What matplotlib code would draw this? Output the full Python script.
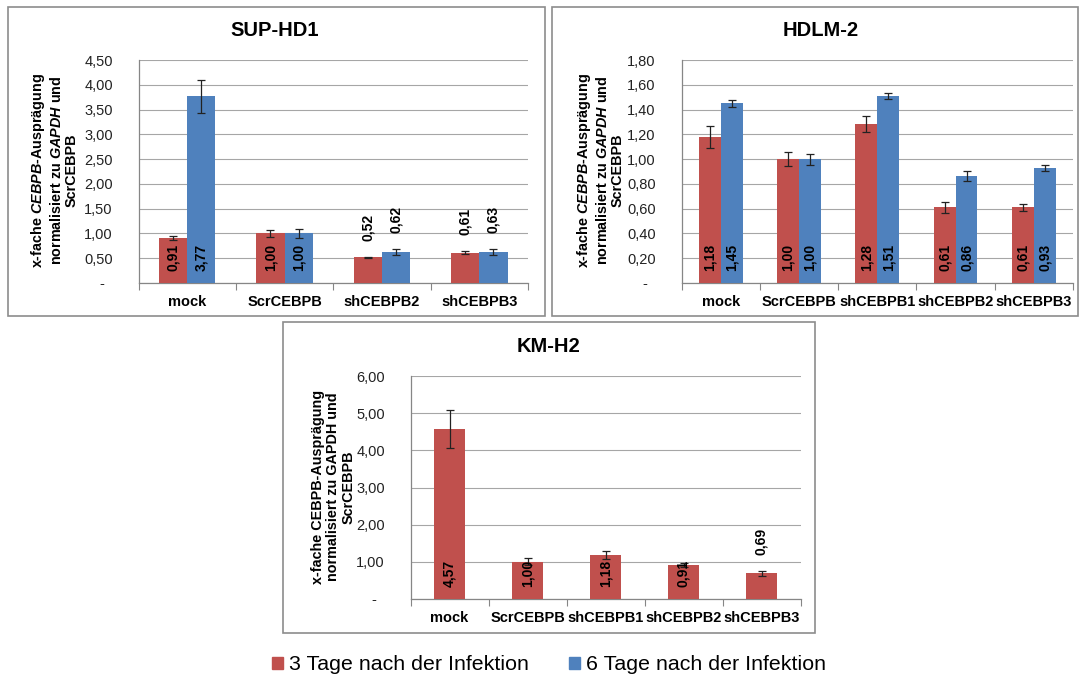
import matplotlib
matplotlib.use('Agg')
import matplotlib.pyplot as plt
from matplotlib.patches import Rectangle, Patch
from matplotlib.ticker import FuncFormatter

plt.rcParams['font.family'] = ['Liberation Sans', 'DejaVu Sans']
plt.rcParams['mathtext.fontset'] = 'custom'
plt.rcParams['mathtext.it'] = 'Liberation Sans:italic:bold'
plt.rcParams['mathtext.rm'] = 'Liberation Sans:bold'

# data
cats4 = ['mock', 'ScrCEBPB', 'shCEBPB2', 'shCEBPB3']
cats5 = ['mock', 'ScrCEBPB', 'shCEBPB1', 'shCEBPB2', 'shCEBPB3']

sup_3d = [0.91, 1.00, 0.52, 0.61]
sup_3d_err = [0.04, 0.07, 0.01, 0.03]
sup_6d = [3.77, 1.00, 0.62, 0.63]
sup_6d_err = [0.33, 0.09, 0.065, 0.06]

hdlm_3d = [1.18, 1.00, 1.28, 0.61, 0.61]
hdlm_3d_err = [0.09, 0.055, 0.065, 0.043, 0.03]
hdlm_6d = [1.45, 1.00, 1.51, 0.86, 0.93]
hdlm_6d_err = [0.03, 0.045, 0.027, 0.04, 0.025]

kmh2_3d = [4.57, 1.00, 1.18, 0.91, 0.69]
kmh2_3d_err = [0.51, 0.09, 0.11, 0.06, 0.07]

series_names = ['3 Tage nach der Infektion', '6 Tage nach der Infektion']
RED = '#C0504D'
BLUE = '#4F81BD'
GRID = '#A6A6A6'

fig = plt.figure(figsize=(10.8, 6.77), dpi=100)
W, H = 1080, 677


def px_axes(x0, y0, x1, y1):
    return fig.add_axes([x0 / W, 1 - y1 / H, (x1 - x0) / W, (y1 - y0) / H])


def fmt(v, pos=None):
    if abs(v) < 1e-9:
        return '-  '
    return f'{v:.2f}'.replace('.', ',')


def draw_panel(ax, cats, series, errs, colors, width, ymax, ystep):
    n = len(cats)
    k = len(series)
    xs = range(n)
    for j, (vals, err, col) in enumerate(zip(series, errs, colors)):
        off = (j - (k - 1) / 2) * width
        pos = [x + off for x in xs]
        ax.bar(pos, vals, width=width, color=col, zorder=3)
        ax.errorbar(pos, vals, yerr=err, fmt='none', ecolor='#222222',
                    elinewidth=0.9, capsize=3, capthick=0.9, zorder=4)
        for p, v, e in zip(pos, vals, err):
            txt = fmt(v)
            if v / ymax > 0.14:
                ax.annotate(txt, (p, 0), xytext=(0, 12), textcoords='offset pixels',
                            rotation=90, ha='center', va='bottom',
                            fontsize=10, fontweight='bold', zorder=5)
            else:
                ax.annotate(txt, (p, v + e), xytext=(0, 16), textcoords='offset pixels',
                            rotation=90, ha='center', va='bottom',
                            fontsize=10, fontweight='bold', zorder=5)
    ax.set_xlim(-0.5, n - 0.5)
    ax.set_ylim(0, ymax)
    ticks = [i * ystep for i in range(int(round(ymax / ystep)) + 1)]
    ax.set_yticks(ticks)
    ax.yaxis.set_major_formatter(FuncFormatter(fmt))
    ax.tick_params(axis='y', length=0, labelsize=10.5, pad=18.5, colors='#222222')
    ax.set_xticks([i - 0.5 for i in range(n + 1)])
    ax.set_xticklabels([])
    ax.tick_params(axis='x', which='major', length=5, direction='out', color='#868686')
    ax.set_xticks(list(xs), minor=True)
    ax.set_xticklabels(cats, minor=True, fontsize=10.5, fontweight='bold')
    ax.tick_params(axis='x', which='minor', length=0, pad=9)
    ax.grid(axis='y', color=GRID, linewidth=0.8, zorder=0)
    for s in ['top', 'right']:
        ax.spines[s].set_visible(False)
    for s in ['left', 'bottom']:
        ax.spines[s].set_color('#868686')
        ax.spines[s].set_linewidth(0.9)


def frame(x0, y0, x1, y1):
    fig.patches.append(Rectangle((x0 / W, 1 - y1 / H), (x1 - x0) / W, (y1 - y0) / H,
                                 transform=fig.transFigure, fill=False,
                                 edgecolor='#8C8C8C', linewidth=1.2))


ylab_it = 'x-fache $\\mathit{CEBPB}$-Ausprägung\nnormalisiert zu $\\mathit{GAPDH}$ und\nScrCEBPB'
ylab_plain = 'x-fache CEBPB-Ausprägung\nnormalisiert zu GAPDH und\nScrCEBPB'
ylab_kw = dict(rotation=90, ha='center', va='center', fontsize=10.4,
               fontweight='bold', multialignment='center', linespacing=1.12)
title_kw = dict(ha='center', va='center', fontsize=14.5, fontweight='bold')

# SUP-HD1
frame(8, 7, 545, 316)
ax1 = px_axes(138.5, 60, 528, 283)
draw_panel(ax1, cats4, [sup_3d, sup_6d], [sup_3d_err, sup_6d_err], [RED, BLUE],
           0.29, 4.5, 0.5)
fig.text(275 / W, 1 - 31 / H, 'SUP-HD1', **title_kw)
fig.text(54 / W, 1 - 170 / H, ylab_it, **ylab_kw)

# HDLM-2
frame(552, 7, 1078, 316)
ax2 = px_axes(681.5, 60, 1073, 283)
draw_panel(ax2, cats5, [hdlm_3d, hdlm_6d], [hdlm_3d_err, hdlm_6d_err], [RED, BLUE],
           0.28, 1.8, 0.2)
fig.text(821 / W, 1 - 31 / H, 'HDLM-2', **title_kw)
fig.text(600 / W, 1 - 170 / H, ylab_it, **ylab_kw)

# KM-H2
frame(283, 322, 815, 633)
ax3 = px_axes(410.5, 376, 800.5, 599)
draw_panel(ax3, cats5, [kmh2_3d], [kmh2_3d_err], [RED], 0.40, 6.0, 1.0)
fig.text(549 / W, 1 - 347 / H, 'KM-H2', **title_kw)
fig.text(333 / W, 1 - 487 / H, ylab_plain, **ylab_kw)

handles = [Patch(color=RED, label=series_names[0]), Patch(color=BLUE, label=series_names[1])]
fig.legend(handles=handles, loc='center', bbox_to_anchor=(549 / W, 1 - 665 / H), ncol=2,
           frameon=False, fontsize=15.4, handlelength=0.52, handleheight=0.52,
           handletextpad=0.25, columnspacing=1.9)

fig.savefig('out.png', dpi=100)
